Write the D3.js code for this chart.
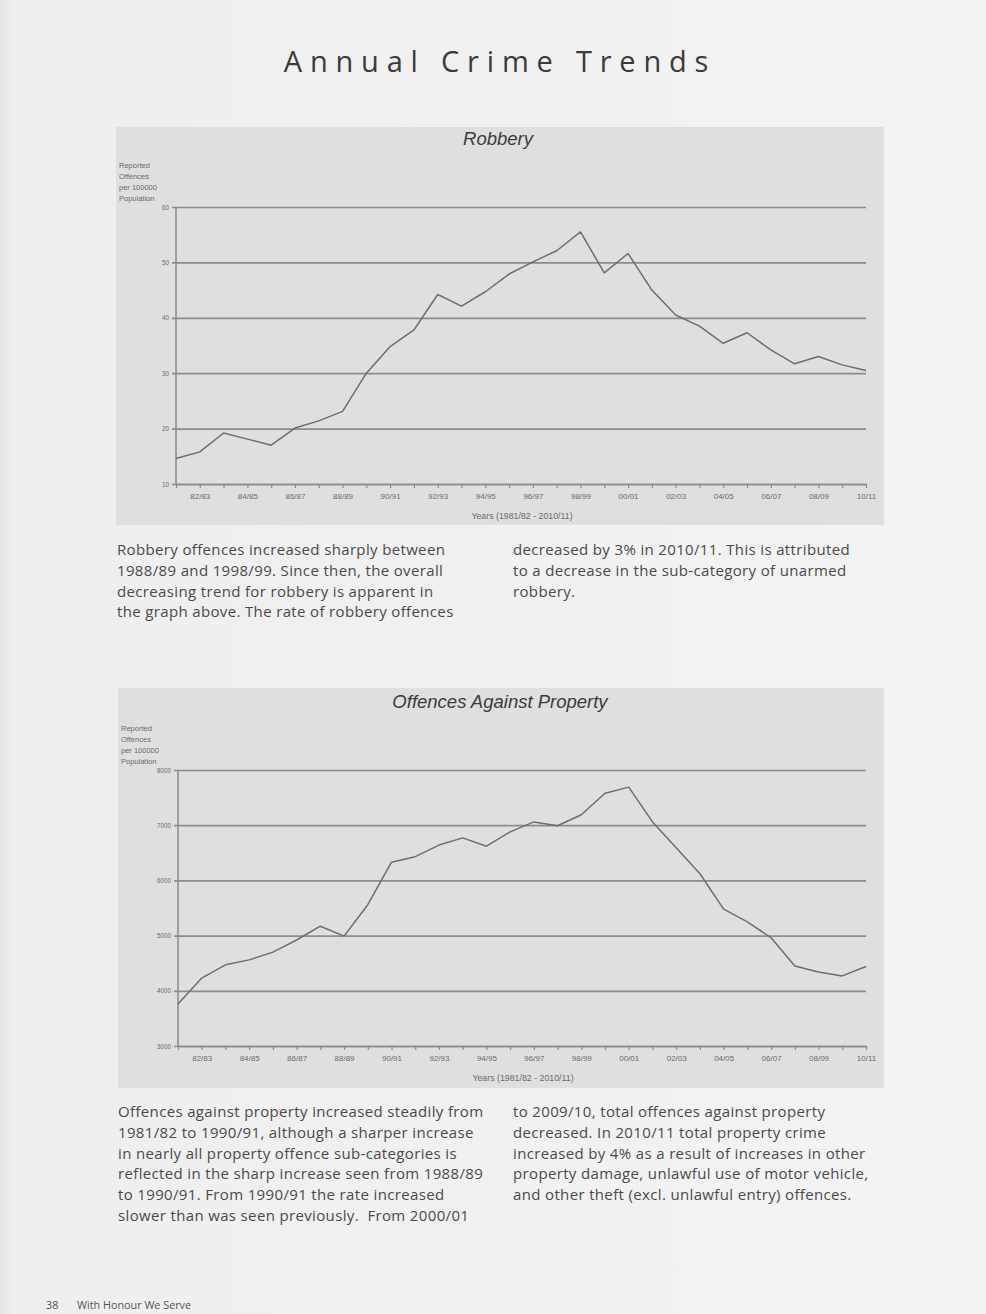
<!DOCTYPE html>
<html>
<head>
<meta charset="utf-8">
<script src="https://cdn.jsdelivr.net/npm/d3@7"></script>
<style>
  html, body { margin: 0; padding: 0; background: #f0f0f0; }
  svg { display: block; }
</style>
</head>
<body>
<svg id="page" width="986" height="1314"></svg>
<script>
// Financial years shown on the horizontal axis
const years = ["81/82","82/83","83/84","84/85","85/86","86/87","87/88","88/89","89/90","90/91",
  "91/92","92/93","93/94","94/95","95/96","96/97","97/98","98/99","99/00","00/01",
  "01/02","02/03","03/04","04/05","05/06","06/07","07/08","08/09","09/10","10/11"];

// Robbery: reported offences per 100 000 population
const robberyRates = [14.6, 15.8, 19.2, 18.1, 17.0, 20.1, 21.4, 23.1, 30.0, 34.8,
  37.8, 44.2, 42.1, 44.7, 47.9, 50.1, 52.1, 55.5, 48.1, 51.6,
  45.0, 40.5, 38.5, 35.4, 37.3, 34.2, 31.7, 33.0, 31.5, 30.5];
const robberyTicks = [10, 20, 30, 40, 50, 60];

// Offences against property: reported offences per 100 000 population
const propertyRates = [3760, 4230, 4470, 4560, 4700, 4920, 5170, 4990, 5560, 6330,
  6430, 6640, 6770, 6620, 6880, 7060, 6990, 7190, 7580, 7690,
  7060, 6590, 6120, 5480, 5250, 4960, 4450, 4340, 4270, 4440];
const propertyTicks = [3000, 4000, 5000, 6000, 7000, 8000];

const yAxisTitle = ["Reported", "Offences", "per 100000", "Population"];
const xAxisTitle = "Years (1981/82 - 2010/11)";

const robberyText = {
  left: ["Robbery offences increased sharply between",
         "1988/89 and 1998/99. Since then, the overall",
         "decreasing trend for robbery is apparent in",
         "the graph above. The rate of robbery offences"],
  right: ["decreased by 3% in 2010/11. This is attributed",
          "to a decrease in the sub-category of unarmed",
          "robbery."]
};
const propertyText = {
  left: ["Offences against property increased steadily from",
         "1981/82 to 1990/91, although a sharper increase",
         "in nearly all property offence sub-categories is",
         "reflected in the sharp increase seen from 1988/89",
         "to 1990/91. From 1990/91 the rate increased",
         "slower than was seen previously.  From 2000/01"],
  right: ["to 2009/10, total offences against property",
          "decreased. In 2010/11 total property crime",
          "increased by 4% as a result of increases in other",
          "property damage, unlawful use of motor vehicle,",
          "and other theft (excl. unlawful entry) offences."]
};

const svg = d3.select("#page");

// page background with a slightly darker left edge
const defs = svg.append("defs");
const pg = defs.append("linearGradient").attr("id", "pageShade").attr("x1", 0).attr("x2", 1);
pg.append("stop").attr("offset", 0).attr("stop-color", "#e4e4e4");
pg.append("stop").attr("offset", 0.012).attr("stop-color", "#eeeeee");
pg.append("stop").attr("offset", 1).attr("stop-color", "#f3f3f3");
svg.append("rect").attr("width", 986).attr("height", 1314).attr("fill", "url(#pageShade)");

svg.append("text")
  .attr("x", 500).attr("y", 72)
  .attr("text-anchor", "middle")
  .attr("font-family", "'Open Sans', sans-serif")
  .attr("font-size", 29)
  .attr("letter-spacing", 7.8)
  .attr("fill", "#3a3a3a")
  .text("Annual Crime Trends");

const axisFont = "'Liberation Sans', Arial, sans-serif";

function drawChart(cfg) {
  const g = svg.append("g");
  g.append("rect")
    .attr("x", cfg.box[0]).attr("y", cfg.box[1])
    .attr("width", cfg.box[2] - cfg.box[0]).attr("height", cfg.box[3] - cfg.box[1])
    .attr("fill", "#dfdfdf");

  g.append("text")
    .attr("x", cfg.titleX).attr("y", cfg.titleY)
    .attr("text-anchor", "middle")
    .attr("font-family", axisFont)
    .attr("font-style", "italic")
    .attr("font-size", 18.5)
    .attr("fill", "#3c3c3c")
    .text(cfg.title);

  g.append("g").selectAll("text").data(yAxisTitle).join("text")
    .attr("x", cfg.box[0] + 3)
    .attr("y", (d, i) => cfg.yTitleTop + i * 11)
    .attr("font-family", axisFont)
    .attr("font-size", 7.5)
    .attr("fill", "#6a6a6a")
    .text(d => d);

  const x = d3.scalePoint().domain(years).range(cfg.xRange);
  const y = d3.scaleLinear().domain(d3.extent(cfg.ticks)).range(cfg.yRange);

  // horizontal gridlines and left ticks
  const yAxis = d3.axisLeft(y).tickValues(cfg.ticks)
    .tickSize(cfg.xRange[1] - cfg.xRange[0] + 4).tickSizeOuter(0)
    .tickPadding(3).tickFormat(d3.format("d"));
  const ya = g.append("g")
    .attr("transform", `translate(${cfg.xRange[1]},0)`)
    .call(yAxis);
  ya.select(".domain").remove();
  ya.selectAll(".tick line").attr("stroke", "#8c8c8c").attr("stroke-width", 1.7);
  ya.selectAll(".tick text")
    .attr("x", -(cfg.xRange[1] - cfg.xRange[0]) - 7)
    .attr("font-family", axisFont)
    .attr("font-size", 6.3)
    .attr("fill", "#6a6a6a");

  // vertical axis line
  g.append("line")
    .attr("x1", cfg.xRange[0]).attr("x2", cfg.xRange[0])
    .attr("y1", cfg.yRange[1]).attr("y2", cfg.yRange[0])
    .attr("stroke", "#8a8a8a").attr("stroke-width", 1.5);

  // category axis
  const xAxis = d3.axisBottom(x).tickSize(4).tickSizeOuter(0).tickPadding(5)
    .tickFormat((d, i) => i % 2 === 1 ? d : "");
  const xa = g.append("g")
    .attr("transform", `translate(0,${cfg.yRange[0]})`)
    .call(xAxis);
  xa.select(".domain").attr("stroke", "#8a8a8a").attr("stroke-width", 1.5);
  xa.selectAll(".tick line").attr("stroke", "#8a8a8a").attr("stroke-width", 1.2);
  xa.selectAll(".tick text")
    .attr("font-family", axisFont)
    .attr("font-size", 8)
    .attr("fill", "#6a6a6a");

  g.append("text")
    .attr("x", (cfg.xRange[0] + cfg.xRange[1]) / 2 + 1).attr("y", cfg.yRange[0] + 35)
    .attr("text-anchor", "middle")
    .attr("font-family", axisFont)
    .attr("font-size", 8.8)
    .attr("fill", "#6a6a6a")
    .text(xAxisTitle);

  const line = d3.line().x((d, i) => x(years[i])).y(d => y(d));
  g.append("path")
    .datum(cfg.values)
    .attr("d", line)
    .attr("fill", "none")
    .attr("stroke", "#6e6e6e")
    .attr("stroke-width", 1.5)
    .attr("stroke-linejoin", "round");

  // explanatory paragraph in two columns
  const para = svg.append("g")
    .attr("font-family", "'Open Sans', sans-serif")
    .attr("font-size", 15)
    .attr("letter-spacing", 0.35)
    .attr("fill", "#4a4a4a");
  [["left", cfg.textX[0]], ["right", cfg.textX[1]]].forEach(([col, tx]) => {
    para.append("g").selectAll("text").data(cfg.text[col]).join("text")
      .attr("x", tx)
      .attr("y", (d, i) => cfg.textY + i * 20.8)
      .attr("xml:space", "preserve")
      .text(d => d);
  });
}

drawChart({
  box: [116, 127, 884, 525],
  title: "Robbery", titleX: 498, titleY: 145,
  yTitleTop: 168,
  xRange: [176, 866], yRange: [484, 207],
  ticks: robberyTicks, values: robberyRates,
  text: robberyText, textX: [117, 513], textY: 555
});

drawChart({
  box: [118, 688, 884, 1088],
  title: "Offences Against Property", titleX: 500, titleY: 708,
  yTitleTop: 731,
  xRange: [178, 866], yRange: [1046, 770],
  ticks: propertyTicks, values: propertyRates,
  text: propertyText, textX: [118, 513], textY: 1117
});

const footer = svg.append("g")
  .attr("font-family", "'Open Sans', sans-serif")
  .attr("font-size", 10.8)
  .attr("fill", "#555");
footer.append("text").attr("x", 46).attr("y", 1309).text("38");
footer.append("text").attr("x", 77).attr("y", 1309).text("With Honour We Serve");
</script>
</body>
</html>
